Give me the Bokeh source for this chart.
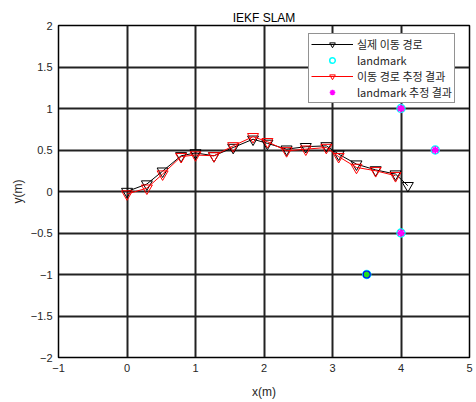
from bokeh.plotting import figure
from bokeh.models import Range1d, FixedTicker, Legend, LegendItem
from bokeh.embed import file_html
from bokeh.resources import INLINE

# True path
true_x = [0.0, 0.29, 0.52, 0.79, 1.0, 1.27, 1.55, 1.84, 2.05, 2.33, 2.61, 2.91, 3.09, 3.35, 3.63, 3.92, 4.10]
true_y = [0.0, 0.09, 0.245, 0.43, 0.465, 0.43, 0.53, 0.63, 0.58, 0.51, 0.54, 0.55, 0.45, 0.33, 0.26, 0.21, 0.07]
# Estimated path
est_x = [0.0, 0.29, 0.52, 0.79, 1.0, 1.27, 1.55, 1.84, 2.05, 2.33, 2.61, 2.91, 3.09, 3.35, 3.63, 3.92]
est_y = [-0.03, 0.04, 0.21, 0.42, 0.44, 0.43, 0.55, 0.66, 0.60, 0.49, 0.51, 0.53, 0.42, 0.29, 0.25, 0.19]
# Landmarks
lm_x = [4.0, 4.5, 4.0, 3.5]
lm_y = [1.0, 0.5, -0.5, -1.0]
# Landmark estimates
lm_est_x = [4.0, 4.5, 4.0]
lm_est_y = [1.0, 0.5, -0.5]
# Extra green marker
extra_x = [3.5]
extra_y = [-1.0]

x_ticks = [-1, 0, 1, 2, 3, 4, 5]
y_ticks = [-2, -1.5, -1, -0.5, 0, 0.5, 1, 1.5, 2]

FONT = "Liberation Sans"
KFONT = "Noto Sans CJK KR"

p = figure(width=476, height=402, output_backend="svg", toolbar_location=None,
           x_range=Range1d(-1, 5), y_range=Range1d(-2, 2),
           min_border_left=58, min_border_right=7, min_border_top=25, min_border_bottom=45,
           title="IEKF SLAM")
p.title.align = "center"
p.title.text_font = FONT
p.title.text_font_style = "normal"
p.title.text_font_size = "12px"
p.title.text_color = "#000000"
p.title.offset = 0
p.title.standoff = 2

p.outline_line_color = "#000000"
p.outline_line_width = 1.5

for ax in (p.xaxis[0], p.yaxis[0]):
    ax.major_label_text_font = FONT
    ax.major_label_text_font_size = "11px"
    ax.major_label_text_color = "#262626"
    ax.axis_label_text_font = FONT
    ax.axis_label_text_font_size = "12px"
    ax.axis_label_text_font_style = "normal"
    ax.axis_label_text_color = "#262626"
    ax.axis_line_color = "#000000"
    ax.major_tick_in = 0
    ax.major_tick_out = 0
    ax.minor_tick_in = 0
    ax.minor_tick_out = 0

p.xaxis.ticker = FixedTicker(ticks=x_ticks)
p.yaxis.ticker = FixedTicker(ticks=y_ticks)
p.xaxis.axis_label = "x(m)"
p.yaxis.axis_label = "y(m)"
p.xaxis.major_label_standoff = 6
p.yaxis.major_label_standoff = 6
p.xaxis.axis_label_standoff = 10
p.yaxis.axis_label_standoff = 3

p.grid.grid_line_color = "#222222"
p.grid.grid_line_width = 2
p.grid.grid_line_alpha = 1.0

# True path
l1 = p.line(true_x, true_y, line_color="#000000", line_width=1)
s1 = p.scatter(true_x, true_y, marker="inverted_triangle", size=11,
               line_color="#000000", fill_alpha=0, line_width=1)
# Estimated path
l2 = p.line(est_x, est_y, line_color="#ff0000", line_width=1)
s2 = p.scatter(est_x, est_y, marker="inverted_triangle", size=11,
               line_color="#ff0000", fill_alpha=0, line_width=1)
# Landmarks
s3 = p.scatter(lm_x, lm_y, marker="circle", size=8, line_color="#00ffff",
               fill_alpha=0, line_width=1.5)
s4 = p.scatter(lm_est_x, lm_est_y, marker="asterisk", size=8, line_color="#ff00ff",
               line_width=1.5)
s4b = p.scatter(lm_est_x, lm_est_y, marker="circle", size=5, line_color="#ff00ff",
                fill_color="#ff00ff", line_width=0)
s5 = p.scatter(extra_x, extra_y, marker="circle", size=7, line_color="#0000ff",
               fill_color="#22dd22", line_width=1.2)

legend = Legend(items=[
    LegendItem(label="실제 이동 경로", renderers=[l1, s1]),
    LegendItem(label="landmark", renderers=[s3]),
    LegendItem(label="이동 경로 추정 결과", renderers=[l2, s2]),
    LegendItem(label="landmark 추정 결과", renderers=[s4]),
], location=(250, 254))
legend.label_text_font = KFONT
legend.label_text_font_size = "11px"
legend.label_text_color = "#262626"
legend.glyph_width = 42
legend.glyph_height = 14
legend.label_height = 14
legend.spacing = 0
legend.padding = 2
legend.margin = 0
legend.label_standoff = 4
legend.border_line_color = "#262626"
legend.border_line_width = 1
legend.background_fill_color = "white"
legend.background_fill_alpha = 1
p.add_layout(legend, "center")

open("out.html", "w").write(file_html(p, INLINE))
